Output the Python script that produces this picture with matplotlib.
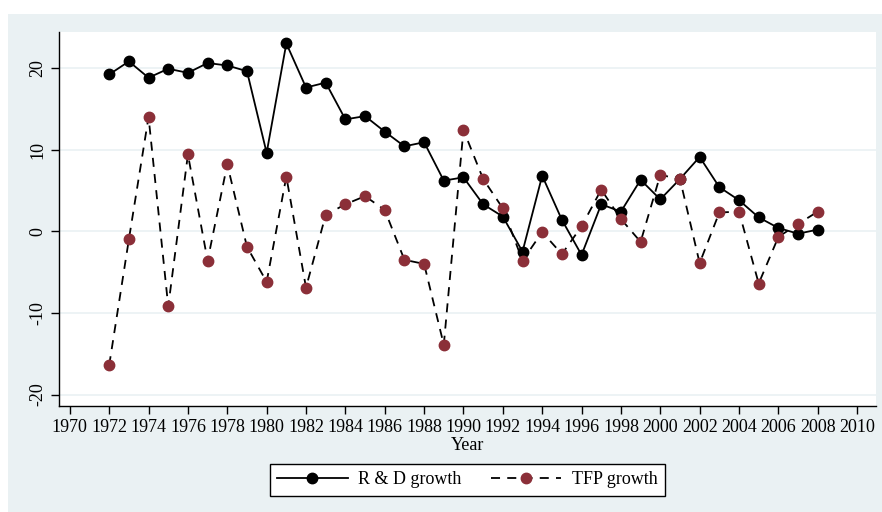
import matplotlib
matplotlib.use("Agg")
import matplotlib.pyplot as plt
from matplotlib.patches import Rectangle

years = list(range(1972, 2009))
rd_growth = [19.2, 20.8, 18.8, 19.9, 19.4, 20.6, 20.3, 19.6, 9.6, 23.0,
             17.6, 18.2, 13.7, 14.1, 12.2, 10.4, 10.9, 6.2, 6.6, 3.3,
             1.8, -2.5, 6.8, 1.4, -2.9, 3.3, 2.4, 6.3, 3.9, 6.4,
             9.1, 5.4, 3.8, 1.7, 0.4, -0.3, 0.2]
tfp_growth = [-16.4, -1.0, 14.0, -9.2, 9.4, -3.6, 8.2, -1.9, -6.2, 6.7,
              -6.9, 2.0, 3.3, 4.3, 2.6, -3.5, -4.0, -13.9, 12.4, 6.4,
              2.8, -3.6, -0.1, -2.8, 0.6, 5.1, 1.5, -1.3, 6.9, 6.4,
              -3.9, 2.3, 2.4, -6.4, -0.7, 0.9, 2.4]
x_ticks = list(range(1970, 2011, 2))
y_ticks = [-20, -10, 0, 10, 20]

plt.rcParams['font.family'] = ['Liberation Serif', 'DejaVu Serif']

bg = '#eaf1f3'
fig = plt.figure(figsize=(8.82, 5.12), dpi=100, facecolor='white')
fig.patches.append(Rectangle((8/882, 0), 1 - 8/882, 1 - 14/512,
                             transform=fig.transFigure, facecolor=bg,
                             edgecolor='none', zorder=-10))

ax = fig.add_axes([59/882, 1 - 406/512, (876 - 59)/882, (406 - 32)/512])
ax.set_zorder(2)
ax.set_facecolor('white')

ax.plot(years, rd_growth, '-', color='black', lw=1.3, marker='o',
        markersize=7.5, markerfacecolor='black', markeredgecolor='black',
        label='R & D growth', zorder=3)
ax.plot(years, tfp_growth, color='black', lw=1.3, linestyle=(0, (5, 4)),
        marker='o', markersize=7.5, markerfacecolor='#8b2f38',
        markeredgecolor='#8b2f38', label='TFP growth', zorder=3)

ax.set_xlim(1969.45, 2010.96)
ax.set_ylim(-21.4, 24.4)
ax.set_xticks(x_ticks)
ax.set_yticks(y_ticks)
ax.set_yticklabels([str(v) for v in y_ticks], rotation=90, va='center')
ax.tick_params(axis='both', direction='out', length=6, width=1, color='black',
               labelsize=13, pad=3)
ax.grid(axis='y', color=bg, lw=1.2, zorder=0)
ax.set_axisbelow(True)
for s in ['top', 'right']:
    ax.spines[s].set_visible(False)
for s in ['left', 'bottom']:
    ax.spines[s].set_linewidth(1)
    ax.spines[s].set_color('black')

ax.set_xlabel('Year', fontsize=13, labelpad=1)

leg = fig.legend(loc='center', bbox_to_anchor=(467.5/882, 1 - 480/512),
                 ncol=2, fontsize=13, frameon=True, fancybox=False,
                 handlelength=3.9, columnspacing=1.6, handletextpad=0.6,
                 borderpad=0.4, framealpha=1)
leg.set_zorder(5)
leg.get_frame().set_edgecolor('black')
leg.get_frame().set_linewidth(1)
leg.get_frame().set_facecolor('white')

fig.savefig('out.png', dpi=100, facecolor='white')
